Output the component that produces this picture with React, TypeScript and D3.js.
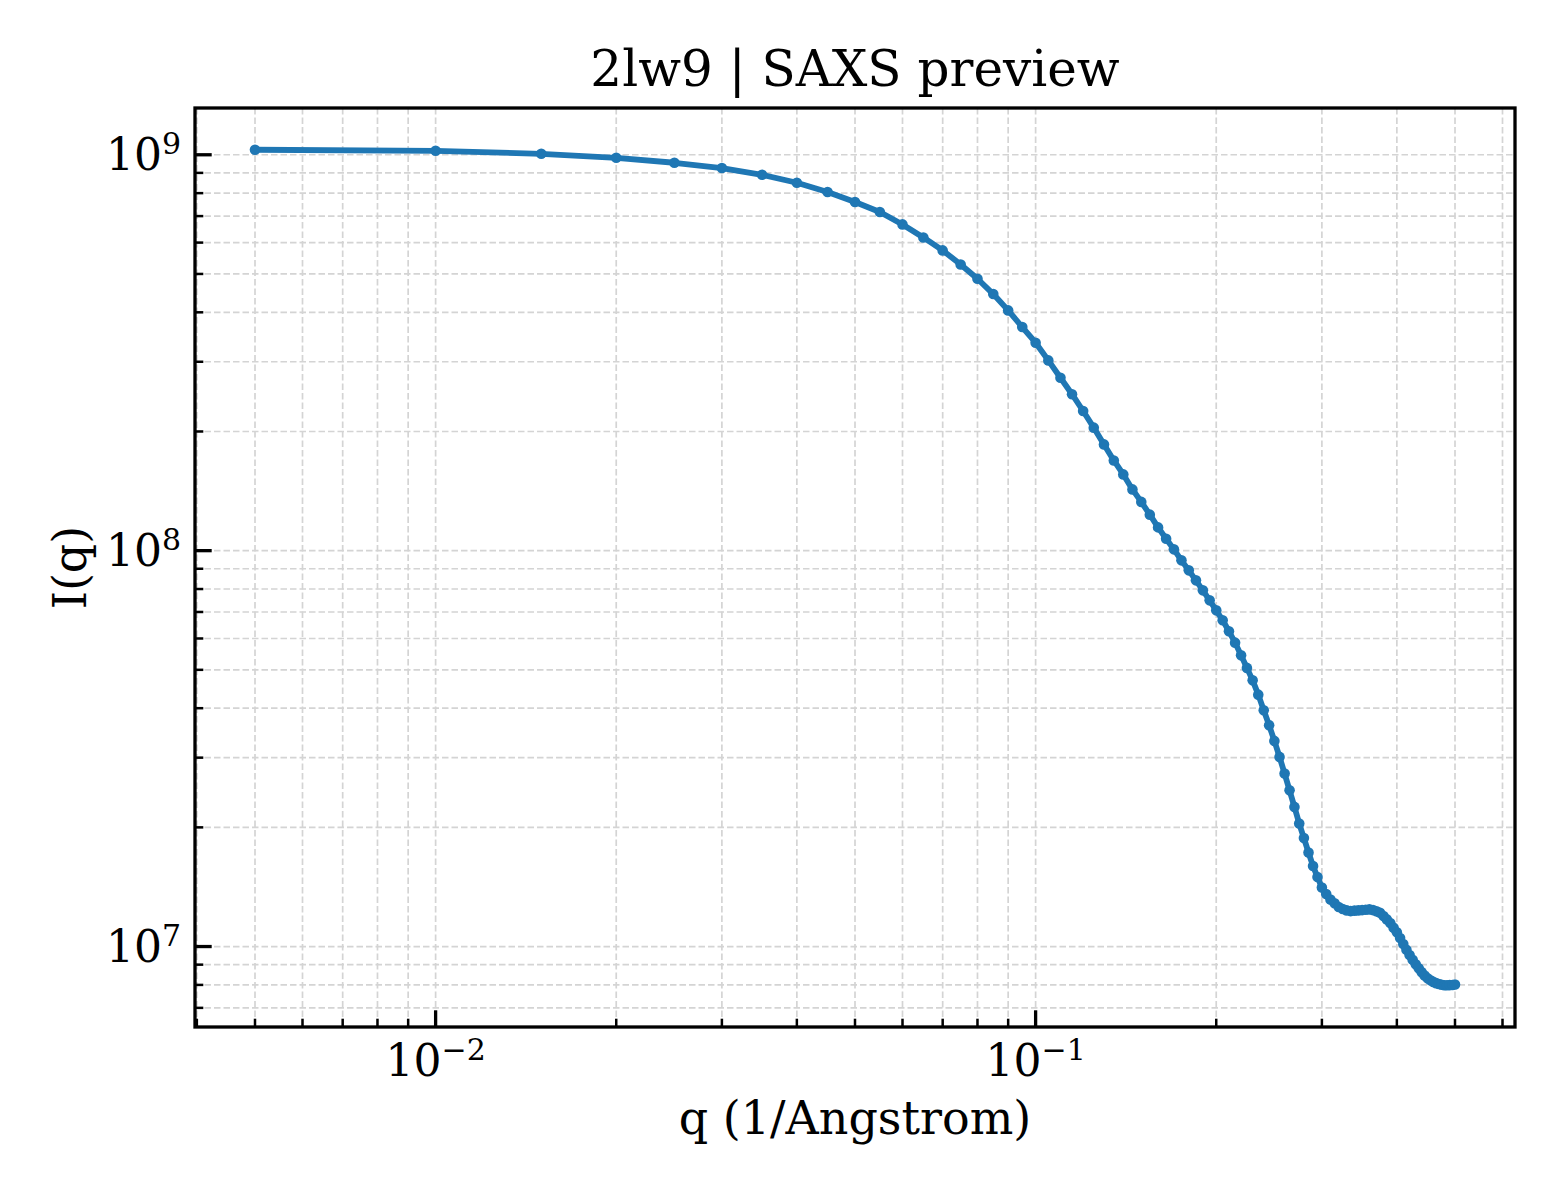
import * as d3 from "d3";

// q grid (1/Angstrom) and scattered intensity
const qValues = [
  0.005, 0.01, 0.015, 0.02, 0.025, 0.03, 0.035, 0.04, 0.045, 0.05,
  0.055, 0.06, 0.065, 0.07, 0.075, 0.08, 0.085, 0.09, 0.095, 0.1,
  0.105, 0.11, 0.115, 0.12, 0.125, 0.13, 0.135, 0.14, 0.145, 0.15,
  0.155, 0.16, 0.165, 0.17, 0.175, 0.18, 0.185, 0.19, 0.195, 0.2,
  0.205, 0.21, 0.215, 0.22, 0.225, 0.23, 0.235, 0.24, 0.245, 0.25,
  0.255, 0.26, 0.265, 0.27, 0.275, 0.28, 0.285, 0.29, 0.295, 0.3,
  0.305, 0.31, 0.315, 0.32, 0.325, 0.33, 0.335, 0.34, 0.345, 0.35,
  0.355, 0.36, 0.365, 0.37, 0.375, 0.38, 0.385, 0.39, 0.395, 0.4,
  0.405, 0.41, 0.415, 0.42, 0.425, 0.43, 0.435, 0.44, 0.445, 0.45,
  0.455, 0.46, 0.465, 0.47, 0.475, 0.48, 0.485, 0.49, 0.495, 0.5,
];

const intensity = [
  1.0295e9, 1.0235e9, 1.0058e9, 9.827e8, 9.546e8, 9.256e8, 8.902e8, 8.497e8, 8.052e8, 7.597e8,
  7.168e8, 6.669e8, 6.183e8, 5.733e8, 5.284e8, 4.862e8, 4.448e8, 4.045e8, 3.672e8, 3.352e8,
  3.024e8, 2.734e8, 2.484e8, 2.253e8, 2.045e8, 1.855e8, 1.69e8, 1.558e8, 1.428e8, 1.328e8,
  1.233e8, 1.145e8, 1.072e8, 1.0076e8, 9.452e7, 8.917e7, 8.414e7, 7.938e7, 7.489e7, 7.066e7,
  6.669e7, 6.256e7, 5.857e7, 5.439e7, 5.057e7, 4.703e7, 4.328e7, 3.953e7, 3.623e7, 3.307e7,
  3.013e7, 2.734e7, 2.481e7, 2.253e7, 2.045e7, 1.879e7, 1.728e7, 1.597e7, 1.498e7, 1.409e7,
  1.357e7, 1.314e7, 1.286e7, 1.259e7, 1.244e7, 1.234e7, 1.229e7, 1.232e7, 1.234e7, 1.236e7,
  1.239e7, 1.241e7, 1.236e7, 1.227e7, 1.217e7, 1.194e7, 1.171e7, 1.146e7, 1.116e7, 1.086e7,
  1.051e7, 1.0146e7, 9.815e6, 9.518e6, 9.256e6, 9.022e6, 8.815e6, 8.617e6, 8.448e6, 8.312e6,
  8.216e6, 8.14e6, 8.083e6, 8.041e6, 8.004e6, 7.985e6, 7.985e6, 7.99e6, 7.996e6, 8.018e6,
];

const xTickLabels = [
  { value: 0.01, exp: "−2" },
  { value: 0.1, exp: "−1" },
];
const yTickLabels = [
  { value: 1e7, exp: "7" },
  { value: 1e8, exp: "8" },
  { value: 1e9, exp: "9" },
];

const title = "2lw9 | SAXS preview";
const xLabel = "q (1/Angstrom)";
const yLabel = "I(q)";

const W = 1560;
const H = 1200;
const margin = { top: 108, right: 45, bottom: 173, left: 195 };
const font = "'DejaVu Serif', serif";
const blue = "#1f77b4";

// matplotlib-style 5% margins in log space
function logPadded(values: number[]): [number, number] {
  const [lo, hi] = d3.extent(values) as [number, number];
  const a = Math.log10(lo);
  const b = Math.log10(hi);
  const pad = (b - a) * 0.05;
  return [Math.pow(10, a - pad), Math.pow(10, b + pad)];
}

const isMajor = (v: number) => Math.abs(Math.log10(v) - Math.round(Math.log10(v))) < 1e-9;

export default function App() {
  const left = margin.left;
  const right = W - margin.right;
  const top = margin.top;
  const bottom = H - margin.bottom;

  const x = d3.scaleLog().domain(logPadded(qValues)).range([left, right]);
  const y = d3.scaleLog().domain(logPadded(intensity)).range([bottom, top]);

  const xTicks = x.ticks();
  const yTicks = y.ticks();

  const points = qValues.map((q, i) => ({ q, v: intensity[i] }));
  const line = d3
    .line<{ q: number; v: number }>()
    .x((d) => x(d.q))
    .y((d) => y(d.v));

  const tickFs = 44;
  const supFs = 30;

  return (
    <svg
      width={W}
      height={H}
      style={{ position: "absolute", left: 0, top: 0, background: "#fff" }}
      fontFamily={font}
    >
      <rect x={0} y={0} width={W} height={H} fill="#fff" />

      {/* grid */}
      <g stroke="#d4d4d4" strokeWidth={1.7} strokeDasharray="6.5,3">
        {xTicks.map((t, i) => (
          <line key={"gx" + i} x1={x(t)} x2={x(t)} y1={top} y2={bottom} />
        ))}
        {yTicks.map((t, i) => (
          <line key={"gy" + i} x1={left} x2={right} y1={y(t)} y2={y(t)} />
        ))}
      </g>

      {/* data */}
      <path d={line(points) || ""} fill="none" stroke={blue} strokeWidth={5.8} strokeLinejoin="round" />
      <g fill={blue}>
        {points.map((d, i) => (
          <circle key={i} cx={x(d.q)} cy={y(d.v)} r={5.3} />
        ))}
      </g>

      {/* ticks, pointing inward */}
      <g stroke="#000">
        {xTicks.map((t, i) => (
          <line
            key={"tx" + i}
            x1={x(t)}
            x2={x(t)}
            y1={bottom}
            y2={bottom - (isMajor(t) ? 16.7 : 8.3)}
            strokeWidth={isMajor(t) ? 3.3 : 2.5}
          />
        ))}
        {yTicks.map((t, i) => (
          <line
            key={"ty" + i}
            x1={left}
            x2={left + (isMajor(t) ? 16.7 : 8.3)}
            y1={y(t)}
            y2={y(t)}
            strokeWidth={isMajor(t) ? 3.3 : 2.5}
          />
        ))}
      </g>

      {/* frame */}
      <rect
        x={left}
        y={top}
        width={right - left}
        height={bottom - top}
        fill="none"
        stroke="#000"
        strokeWidth={3.3}
      />

      {/* tick labels */}
      {xTickLabels.map((t) => (
        <text key={t.exp} x={x(t.value)} y={bottom + 49} textAnchor="middle" fontSize={tickFs}>
          10
          <tspan dy={-16} fontSize={supFs}>
            {t.exp}
          </tspan>
        </text>
      ))}
      {yTickLabels.map((t) => (
        <text key={t.exp} x={left - 14} y={y(t.value) + 15} textAnchor="end" fontSize={tickFs}>
          10
          <tspan dy={-16} fontSize={supFs}>
            {t.exp}
          </tspan>
        </text>
      ))}

      {/* labels */}
      <text x={(left + right) / 2} y={86} textAnchor="middle" fontSize={50}>
        {title}
      </text>
      <text x={(left + right) / 2} y={1134} textAnchor="middle" fontSize={46}>
        {xLabel}
      </text>
      <text
        transform={`translate(86, ${(top + bottom) / 2}) rotate(-90)`}
        textAnchor="middle"
        fontSize={46}
      >
        {yLabel}
      </text>
    </svg>
  );
}
